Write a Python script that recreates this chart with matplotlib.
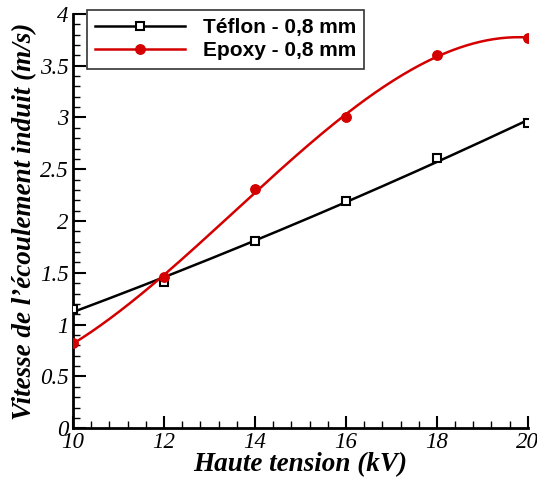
import numpy as np
import matplotlib
matplotlib.use("Agg")
import matplotlib.pyplot as plt
from matplotlib.ticker import MultipleLocator

# values
tension = [10, 12, 14, 16, 18, 20]
teflon = [1.15, 1.41, 1.81, 2.19, 2.61, 2.95]
epoxy = [0.82, 1.46, 2.31, 3.00, 3.60, 3.77]

labels = ["Téflon - 0,8 mm", "Epoxy - 0,8 mm"]


def main():
    fig = plt.figure(figsize=(5.37, 4.79), dpi=100)
    ax = fig.add_axes([0.136, 0.106, 0.847, 0.865])

    xs = np.linspace(tension[0], tension[-1], 200)

    # smooth fitted curves like the original plot
    fit_t = np.polyval(np.polyfit(tension, teflon, 2), xs)
    fit_e = np.polyval(np.polyfit(tension, epoxy, 3), xs)

    ax.plot(xs, fit_t, color="black", lw=1.8, zorder=2)
    ax.plot(xs, fit_e, color="#d40000", lw=1.8, zorder=2)
    ax.plot(tension, teflon, ls="none", marker="s", ms=5.8, mfc="white",
            mec="black", mew=1.5, zorder=3)
    ax.plot(tension, epoxy, ls="none", marker="o", ms=6.8, mfc="#d40000",
            mec="#d40000", zorder=3)

    # legend entries
    ax.plot([], [], color="black", lw=1.8, marker="s", ms=5.8, mfc="white",
            mec="black", mew=1.5, label=labels[0])
    ax.plot([], [], color="#d40000", lw=1.8, marker="o", ms=6.8,
            mfc="#d40000", mec="#d40000", label=labels[1])

    ax.set_xlim(10, 20)
    ax.set_ylim(0, 4)
    ax.xaxis.set_major_locator(MultipleLocator(2))
    ax.xaxis.set_minor_locator(MultipleLocator(0.4))
    ax.yaxis.set_minor_locator(MultipleLocator(0.1))
    ax.set_yticks(np.arange(0, 4.01, 0.5))
    ax.set_yticklabels(["0", "0.5", "1", "1.5", "2", "2.5", "3", "3.5", "4"])

    ax.spines["top"].set_visible(False)
    ax.spines["right"].set_visible(False)
    ax.spines["left"].set_linewidth(2)
    ax.spines["bottom"].set_linewidth(2)
    ax.tick_params(which="major", direction="in", length=9, width=1.5,
                   pad=3, labelsize=16.5)
    ax.tick_params(which="minor", direction="in", length=5, width=1)
    for t in ax.get_xticklabels() + ax.get_yticklabels():
        t.set_family("Liberation Serif")
        t.set_style("italic")

    ax.set_xlabel("Haute tension (kV)", family="Liberation Serif",
                  style="italic", weight="bold", fontsize=19.5, labelpad=-1)
    ax.set_ylabel("Vitesse de l\u2019écoulement induit (m/s)",
                  family="Liberation Serif", style="italic", weight="bold",
                  fontsize=19.5, labelpad=2)

    leg = ax.legend(loc="upper left", bbox_to_anchor=(0.031, 1.01),
                    borderaxespad=0,
                    prop={"family": "Liberation Sans", "weight": "bold",
                          "size": 15},
                    frameon=True, fancybox=False, edgecolor="black",
                    handlelength=4.3, borderpad=0.4, labelspacing=0.2,
                    handletextpad=0.85)
    leg.get_frame().set_linewidth(1.2)

    fig.savefig("out.png", dpi=100)


if __name__ == "__main__":
    main()
